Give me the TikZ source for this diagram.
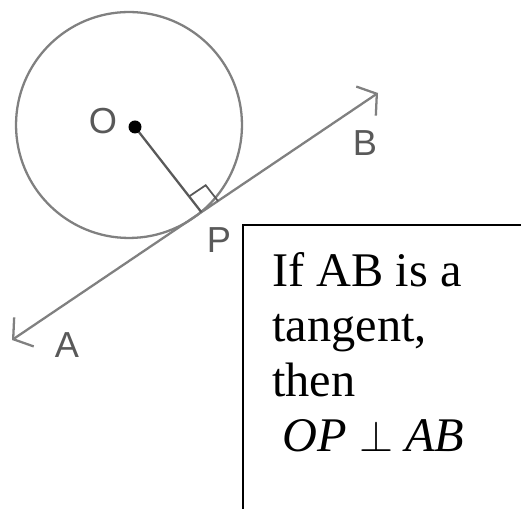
\documentclass[tikz,border=0pt]{standalone}
\usepackage{fontspec}
\setmainfont{Liberation Serif}
\newfontfamily\lblfont{Liberation Sans}
\usetikzlibrary{positioning, arrows.meta, calc}

\begin{document}
\begin{tikzpicture}[
    x=0.02cm, y=-0.02cm,
    >={Straight Barb[length=2.6mm, width=7mm]},
    geo/.style={draw=black!50, line width=1.3pt},
    radius/.style={draw=black!65, line width=1.3pt},
    ptlabel/.style={font=\lblfont\fontsize{20.6}{24}\selectfont, text=black!65, inner sep=0pt},
    note/.style={font=\fontsize{27.5}{31.3}\selectfont, align=left, inner sep=0pt},
]
\useasboundingbox (0,0) rectangle (521,509);

% --- Points ---------------------------------------------------------
\coordinate (C) at (129,125);      % centre of the circle
\coordinate (O) at (135,127);
\coordinate (A) at (12,340);
\coordinate (B) at (378,93);
\coordinate (P) at (201.4,212.2);

% --- Circle and tangent ----------------------------------------------
\draw[geo] (C) circle (2.26cm);
\draw[geo, <->] (A) -- (B);

% Radius OP with right-angle mark at P
\draw[radius] (O) -- (P);
\coordinate (q1) at ($(P)!0.4cm!(O)$);
\coordinate (q3) at ($(P)!0.4cm!(B)$);
\draw[radius, line width=1pt] (q1) -- ($(q1)+(q3)-(P)$) -- (q3);
\fill[black] (O) circle (0.13cm);

% --- Labels ----------------------------------------------------------
\node[ptlabel] (lO) at (103,121) {O};
\node[ptlabel] (lB) at (365,143) {B};
\node[ptlabel] (lP) at (219,240) {P};
\node[ptlabel] (lA) at (67,345) {A};

% --- Text box (only top and left sides show) -------------------------
\draw[line width=1.2pt] (243,509) -- (243,225) -- (521,225);
\node[note, anchor=north west] (txt) at (272,252)
    {If AB is a\\tangent,\\then\\\hspace*{6pt}\textit{OP} $\perp$ \textit{AB}};

\end{tikzpicture}
\end{document}
